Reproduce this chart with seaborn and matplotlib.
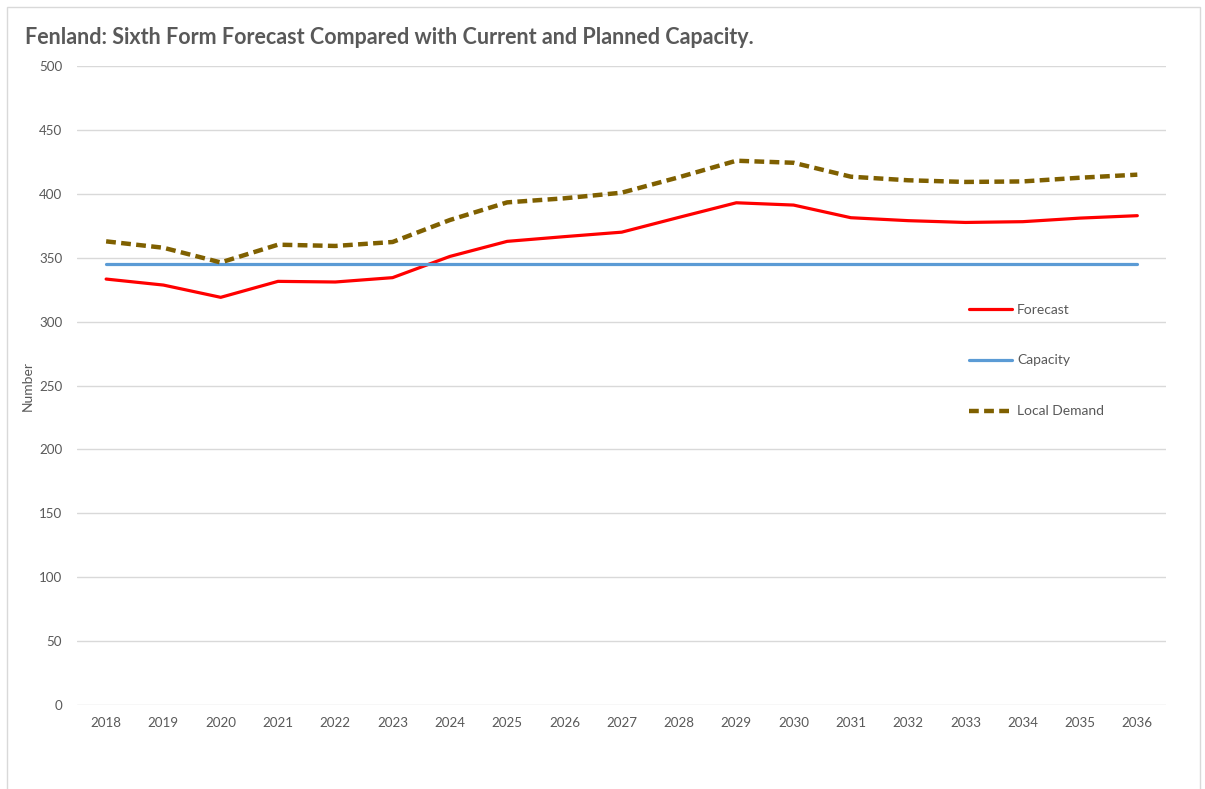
import matplotlib
matplotlib.use("Agg")
import matplotlib.pyplot as plt
import seaborn as sns
import pandas as pd
from matplotlib.patches import Rectangle

years = list(range(2018, 2037))
forecast = [333.3, 328.6, 319.0, 331.5, 331.0, 334.4, 351.0, 362.8, 366.5, 370.0,
            381.6, 393.0, 391.2, 381.3, 379.0, 377.6, 378.2, 381.0, 382.9]
capacity = [345] * 19
local_demand = [362.8, 357.8, 346.3, 360.2, 359.2, 362.3, 379.5, 393.3, 396.5, 400.9,
                413.0, 425.9, 424.3, 413.4, 410.6, 409.3, 409.7, 412.6, 415.0]

title = "Fenland: Sixth Form Forecast Compared with Current and Planned Capacity."
ylabel = "Number"
yticks = [0, 50, 100, 150, 200, 250, 300, 350, 400, 450, 500]

sns.set_theme(style="white")
plt.rcParams['font.family'] = ['Lato', 'DejaVu Sans']

grey = "#595959"
fig = plt.figure(figsize=(12.05, 7.89), dpi=100)
ax = fig.add_axes([0.0643, 0.1065, 0.9033, 0.8098])

df = pd.DataFrame({"Year": years, "Forecast": forecast, "Capacity": capacity,
                   "Local Demand": local_demand})

sns.lineplot(data=df, x="Year", y="Forecast", ax=ax, color="#FF0000", linewidth=2.3,
             label="Forecast")
sns.lineplot(data=df, x="Year", y="Capacity", ax=ax, color="#5B9BD5", linewidth=2.3,
             label="Capacity")
sns.lineplot(data=df, x="Year", y="Local Demand", ax=ax, color="#7F6000", linewidth=3.2,
             label="Local Demand", linestyle=(0, (2.2, 1.2)))

ax.set_xlim(2017.5, 2036.5)
ax.set_ylim(0, 500)
ax.set_xticks(years)
ax.set_xticklabels([str(y) for y in years])
ax.set_yticks(yticks)
ax.yaxis.grid(True, color="#D9D9D9", linewidth=1)
ax.xaxis.grid(False)
for s in ax.spines.values():
    s.set_visible(False)
ax.tick_params(axis="both", length=0, labelsize=9.6, labelcolor=grey)
ax.tick_params(axis="y", pad=11)
ax.tick_params(axis="x", pad=9)
ax.set_xlabel("")
ax.set_ylabel(ylabel, fontsize=10, color=grey)
ax.yaxis.set_label_coords(-0.040, 0.5)

leg = ax.legend(loc="upper left", bbox_to_anchor=(0.7985, 0.624),
                bbox_transform=fig.transFigure, frameon=False, fontsize=10,
                handlelength=3.1, handletextpad=0.35, labelspacing=2.8, borderpad=0)
for t in leg.get_texts():
    t.set_color(grey)

fig.text(0.021, 0.953, title, fontsize=15.5, fontweight="bold", color=grey,
         ha="left", va="center")

fig.patches.append(Rectangle((0.006, -0.01), 0.99, 1.001, transform=fig.transFigure,
                             fill=False, edgecolor="#D9D9D9", linewidth=1))

fig.savefig("out.png", dpi=100)
